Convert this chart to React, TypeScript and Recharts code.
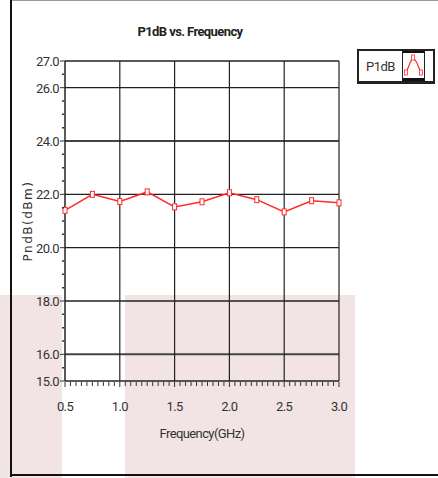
import React from "react";
import { Line, LineChart, ReferenceLine, XAxis, YAxis } from "recharts";

const freqs = [0.5, 0.75, 1.0, 1.25, 1.5, 1.75, 2.0, 2.25, 2.5, 2.75, 3.0];
const p1dB = [21.4, 22.0, 21.73, 22.09, 21.53, 21.72, 22.06, 21.8, 21.34, 21.76, 21.68];

const xLabelTicks = [0.5, 1.0, 1.5, 2.0, 2.5, 3.0];
const xGridLines = [1.0, 1.5, 2.0, 2.5, 3.0];
const yLabelTicks = [15, 16, 18, 20, 22, 24, 26, 27];
const yGridLines = [16, 18, 20, 22, 24, 26, 27];

// minor tick positions (0.05 GHz / 0.5 dB steps)
const xMinorTicks = Array.from({ length: 51 }, (_, i) => Number((0.5 + i * 0.05).toFixed(2)));
const yMinorTicks = Array.from({ length: 25 }, (_, i) => 15 + i * 0.5);

const data = freqs.map((f, i) => ({ freq: f, p1dB: p1dB[i] }));

const FONT = "Roboto, 'Liberation Sans', sans-serif";
const RED = "#ff2b2b";
const PINK = "#f2e4e4";

function XTick(props: any) {
  const { x, y, payload } = props;
  const v = Number(payload.value);
  const major = xLabelTicks.some((t) => Math.abs(t - v) < 1e-6);
  return (
    <g>
      <line x1={x} x2={x} y1={y + 1} y2={y + (major ? 6 : 5)} stroke="#333" strokeWidth={1} />
      {major && (
        <text x={x} y={y + 30} textAnchor="middle" fontSize={13} letterSpacing={-0.6} fill="#333" fontFamily={FONT}>
          {v.toFixed(1)}
        </text>
      )}
    </g>
  );
}

function YTick(props: any) {
  const { x, y, payload } = props;
  const v = Number(payload.value);
  const major = yLabelTicks.includes(v);
  if (!major) {
    return <line x1={x - 3} x2={x - 1} y1={y} y2={y} stroke="#333" strokeWidth={1.5} />;
  }
  return (
    <g>
      <line x1={x - 5} x2={x} y1={y} y2={y} stroke="#333" strokeWidth={1} />
      <text x={x - 6} y={y + 5} textAnchor="end" fontSize={13} letterSpacing={-0.6} fill="#333" fontFamily={FONT}>
        {v.toFixed(1)}
      </text>
    </g>
  );
}

function Marker(props: any) {
  const { cx, cy, index } = props;
  if (cx == null || cy == null) return <g key={index} />;
  return <rect key={index} x={cx - 2} y={cy - 3} width={4} height={6} fill="#fff" stroke={RED} strokeWidth={1} />;
}

function LegendBox() {
  return (
    <div
      style={{
        position: "absolute",
        left: 357,
        top: 49,
        width: 74,
        height: 30,
        border: "2px solid #222",
        borderBottomWidth: 3,
        display: "flex",
        alignItems: "stretch",
        background: "#fff",
        fontFamily: FONT,
      }}
    >
      <div style={{ width: 43, display: "flex", alignItems: "center", justifyContent: "center", fontSize: 13, letterSpacing: -0.5, color: "#333" }}>
        P1dB
      </div>
      <div style={{ width: 21, borderLeft: "1px solid #222", borderRight: "1px solid #222", borderBottom: "3px solid #111", borderTop: "2px solid #111" }}>
        <svg width={21} height={25}>
          <polyline points="3,20 7,10 10,4 14,10 18,20" fill="none" stroke={RED} strokeWidth={1.2} />
          <rect x={1.5} y={17} width={3} height={5} fill="#fff" stroke={RED} strokeWidth={0.8} />
          <rect x={8.5} y={2} width={3} height={5} fill="#fff" stroke={RED} strokeWidth={0.8} />
          <rect x={16.5} y={17} width={3} height={5} fill="#fff" stroke={RED} strokeWidth={0.8} />
        </svg>
      </div>
    </div>
  );
}

export default function App() {
  return (
    <div style={{ position: "fixed", left: 0, top: 0, width: 438, height: 478, background: "#fff", overflow: "hidden" }}>
      <div style={{ position: "absolute", left: 0, top: 295, width: 62, height: 183, background: PINK }} />
      <div style={{ position: "absolute", left: 125, top: 295, width: 230, height: 183, background: PINK }} />
      <div style={{ position: "absolute", left: 11, top: 0, width: 427, height: 0, borderTop: "1px solid #999" }} />
      <div style={{ position: "absolute", left: 10, top: 0, width: 0, height: 477, borderLeft: "2px solid #111" }} />
      <div style={{ position: "absolute", left: 10, top: 474, width: 428, height: 0, borderTop: "2px solid #111" }} />
      <div
        style={{
          position: "absolute",
          left: 90,
          width: 200,
          top: 24,
          textAlign: "center",
          fontFamily: FONT,
          fontWeight: "bold",
          fontSize: 13,
          letterSpacing: -0.6,
          color: "#222",
        }}
      >
        P1dB vs. Frequency
      </div>
      <LegendBox />
      <div style={{ position: "absolute", left: 0, top: 0 }}>
        <LineChart width={438} height={478} data={data} margin={{ top: 61, right: 99, left: 0, bottom: 0 }}>
          <XAxis
            dataKey="freq"
            type="number"
            domain={[0.5, 3]}
            ticks={xMinorTicks}
            interval={0}
            height={97}
            tickSize={0}
            tickMargin={0}
            tickLine={false}
            tick={<XTick />}
            axisLine={{ stroke: "#222", strokeWidth: 1.5 }}
            label={{ value: "Frequency(GHz)", position: "insideTop", offset: 48, fontSize: 13, letterSpacing: -0.6, fill: "#333", fontFamily: FONT }}
          />
          <YAxis
            type="number"
            domain={[15, 27]}
            ticks={yMinorTicks}
            interval={0}
            width={65}
            tickSize={0}
            tickMargin={0}
            tickLine={false}
            tick={<YTick />}
            axisLine={{ stroke: "#222", strokeWidth: 1.5 }}
            label={{
              value: "PndB(dBm)",
              angle: -90,
              position: "insideLeft",
              offset: 28,
              fontSize: 12,
              fill: "#333",
              letterSpacing: 1.5,
              fontFamily: "'DejaVu Sans', sans-serif",
              style: { textAnchor: "middle" },
            }}
          />
          {yGridLines.map((v) => (
            <ReferenceLine key={`y${v}`} y={v} stroke={v === 24 || v === 16 ? "#444" : "#222"} strokeWidth={v === 24 || v === 16 ? 2 : 1.3} />
          ))}
          {xGridLines.map((v) => (
            <ReferenceLine key={`x${v}`} x={v} stroke="#222" strokeWidth={1.2} />
          ))}
          <Line
            dataKey="p1dB"
            name="P1dB"
            stroke={RED}
            strokeWidth={1.5}
            dot={Marker}
            activeDot={false}
            isAnimationActive={false}
          />
        </LineChart>
      </div>
    </div>
  );
}
